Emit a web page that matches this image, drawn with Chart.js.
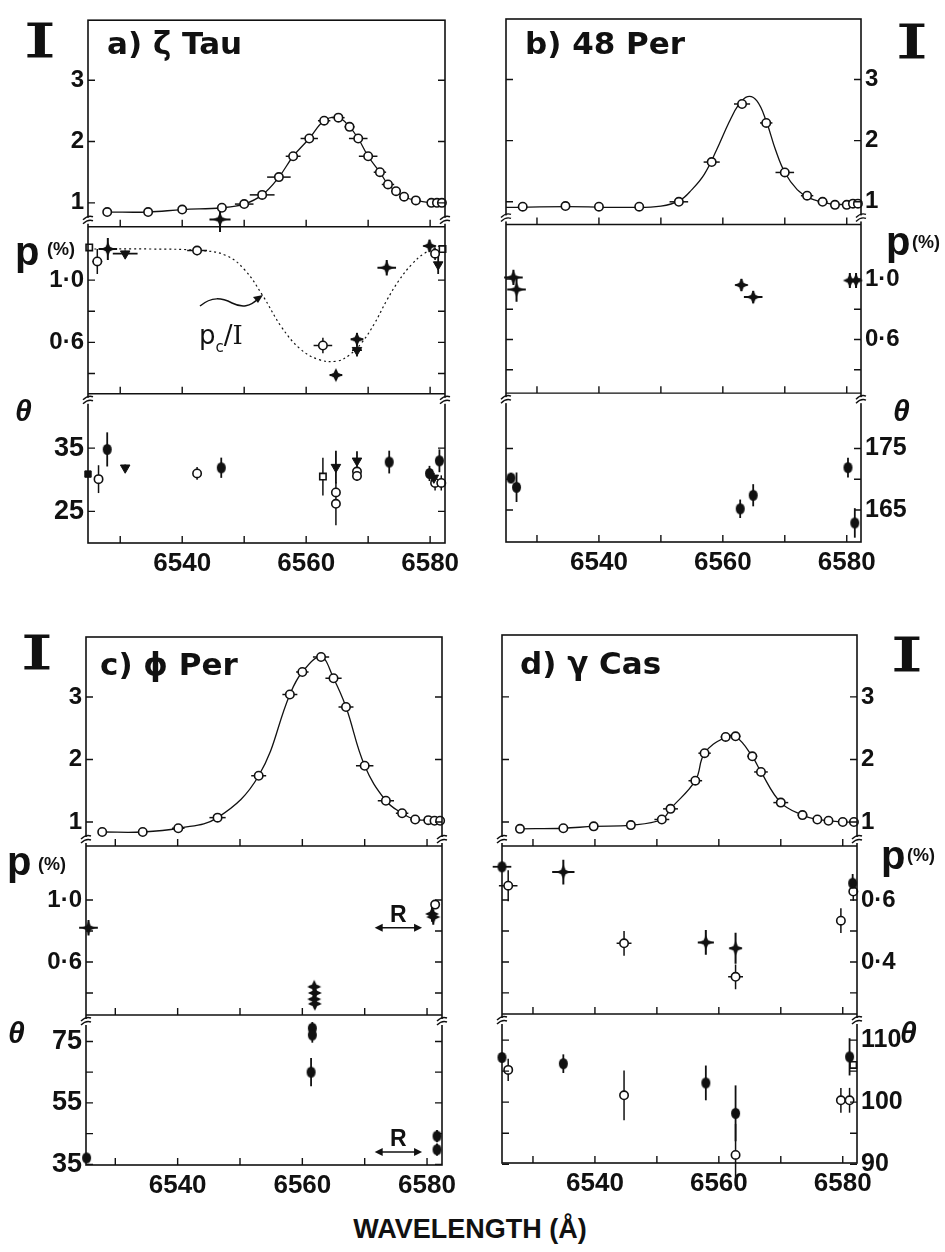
<!DOCTYPE html>
<html>
<head>
<meta charset="utf-8">
<script src="https://cdn.jsdelivr.net/npm/chart.js@4.4.0/dist/chart.umd.min.js"></script>
<style>
  body { margin: 0; background: #fff; }
  #page { position: relative; width: 945px; height: 1252px; overflow: hidden; background: #fff;
          font-family: "Liberation Sans", Arial, sans-serif; font-weight: bold; color: #111; }
  canvas { position: absolute; }
  .lab { position: absolute; white-space: nowrap; line-height: 1; }
  .big-i { font-family: "DejaVu Serif", serif; font-weight: normal; font-size: 46px; transform: scaleX(1.75); transform-origin: left top;
           -webkit-text-stroke: 1.2px #111; }
  .p { font-size: 40px; }
  .pct { font-size: 18px; }
  .th { font-size: 30px; font-style: italic; }
  .star { font-family: "DejaVu Sans", sans-serif; font-size: 31px; }
</style>
</head>
<body>
<div id="page">
  <canvas id="chartA" width="470" height="600" style="left:0;top:0"></canvas>
  <canvas id="chartB" width="475" height="600" style="left:470px;top:0"></canvas>
  <canvas id="chartC" width="470" height="610" style="left:0;top:600px"></canvas>
  <canvas id="chartD" width="475" height="610" style="left:470px;top:600px"></canvas>

  <div class="lab star" style="left:107px;top:28px">a) ζ Tau</div>
  <div class="lab star" style="left:525px;top:28px">b) 48 Per</div>
  <div class="lab star" style="left:100px;top:649px">c) ϕ Per</div>
  <div class="lab star" style="left:520px;top:648px">d) γ Cas</div>

  <div class="lab big-i" style="left:24px;top:18px">I</div>
  <div class="lab big-i" style="left:896px;top:19px">I</div>
  <div class="lab big-i" style="left:21px;top:630px">I</div>
  <div class="lab big-i" style="left:891px;top:632px">I</div>

  <div class="lab p" style="left:15px;top:231px">p</div><div class="lab pct" style="left:47px;top:240px">(%)</div>
  <div class="lab p" style="left:886px;top:221px">p</div><div class="lab pct" style="left:912px;top:233px">(%)</div>
  <div class="lab p" style="left:7px;top:841px">p</div><div class="lab pct" style="left:38px;top:855px">(%)</div>
  <div class="lab p" style="left:881px;top:835px">p</div><div class="lab pct" style="left:907px;top:846px">(%)</div>

  <div class="lab th" style="left:15px;top:396px">θ</div>
  <div class="lab th" style="left:893px;top:396px">θ</div>
  <div class="lab th" style="left:8px;top:1018px">θ</div>
  <div class="lab th" style="left:900px;top:1018px">θ</div>

  <div class="lab" style="left:199px;top:322px;font-weight:normal;font-family:'DejaVu Sans';font-size:26px">p<span style="font-size:15px;position:relative;top:8px">c</span>/<span style="font-family:'DejaVu Serif'">I</span></div>
  <svg style="position:absolute;left:0;top:0" width="470" height="600">
    <path d="M200 306 C 212 296, 222 298, 232 303 S 250 307, 259 298" fill="none" stroke="#111" stroke-width="1.5"/>
    <path d="M253 297 L 263 295 L 258 303 Z" fill="#111"/>
  </svg>

  <div class="lab" style="left:0;width:940px;text-align:center;top:1216px;font-size:27px">WAVELENGTH (Å)</div>
</div>

<script>
var INK = '#111';
var LABEL_FONT = 'Liberation Sans';

// shared wavelength ticks
var xTickVals = [6530, 6540, 6550, 6560, 6570, 6580];
var xTickLabels = [6540, 6560, 6580];
var iTickVals = [1, 2, 3];

// ---------- a) zeta Tau ----------
var aIWave = [6527.9, 6534.5, 6540.0, 6546.4, 6550.0, 6552.9, 6555.6, 6557.9, 6560.5, 6562.9, 6565.2, 6567.0, 6568.4, 6570.0, 6571.9, 6573.2, 6574.5, 6575.8, 6577.7, 6580.2, 6581.1, 6581.9];
var aIVal  = [0.85, 0.85, 0.89, 0.92, 0.98, 1.13, 1.42, 1.76, 2.05, 2.34, 2.39, 2.24, 2.05, 1.76, 1.50, 1.30, 1.19, 1.10, 1.04, 1.00, 1.00, 1.00];
var aIErr  = [0, 0, 0, 0.8, 1.5, 2.0, 1.9, 1.2, 1.4, 1.0, 1.0, 0.8, 1.5, 1.5, 1.0, 1.0, 0.8, 0.8, 0.8, 0, 0, 0];
var aPcWave = [6525.0, 6535.0, 6543.0, 6547.0, 6550.0, 6553.0, 6556.0, 6559.0, 6562.0, 6565.0, 6567.0, 6569.0, 6571.0, 6573.0, 6575.0, 6577.0, 6579.0, 6582.0];
var aPcVal  = [1.20, 1.20, 1.19, 1.16, 1.07, 0.90, 0.70, 0.56, 0.49, 0.48, 0.52, 0.60, 0.72, 0.87, 1.00, 1.10, 1.17, 1.23];
var aPStarWave = [6528.0, 6546.1, 6564.8, 6568.2, 6573.0, 6579.9];
var aPStarVal  = [1.20, 1.39, 0.39, 0.62, 1.08, 1.22];
var aPStarXErr = [1.5, 1.7, 1.0, 1.0, 1.5, 1.0];
var aPStarYErr = [0.07, 0.08, 0.03, 0.04, 0.05, 0.04];
var aPTriWave = [6530.8, 6568.2, 6581.3];
var aPTriVal  = [1.17, 0.55, 1.10];
var aPTriXErr = [2.0, 0.8, 0.5];
var aPTriYErr = [0.02, 0.04, 0.06];
var aPOpenWave = [6526.3, 6542.4, 6562.7, 6580.8];
var aPOpenVal  = [1.12, 1.19, 0.58, 1.17];
var aPOpenXErr = [0.8, 1.6, 1.5, 0.5];
var aPOpenYErr = [0.08, 0.03, 0.05, 0.04];
var aPSqWave = [6525.0, 6582.0];
var aPSqVal  = [1.21, 1.20];
var aTDotWave = [6527.9, 6546.3, 6573.4, 6579.9, 6581.5];
var aTDotVal  = [34.8, 31.9, 32.8, 31.0, 33.0];
var aTDotErr  = [2.7, 1.6, 1.8, 1.2, 1.8];
var aTTriWave = [6530.8, 6564.8, 6568.2, 6580.6];
var aTTriVal  = [31.9, 32.0, 33.0, 30.3];
var aTTriErr  = [0.5, 2.6, 1.5, 0.8];
var aTOpenWave = [6526.5, 6542.4, 6564.8, 6564.8, 6568.2, 6568.2, 6580.8, 6581.8];
var aTOpenVal  = [30.1, 31.0, 28.0, 26.2, 31.3, 30.6, 29.5, 29.5];
var aTOpenErr  = [2.2, 1.0, 0, 3.4, 0, 0.8, 1.2, 1.2];
var aTSqWave = [6562.7];
var aTSqVal  = [30.5];
var aTSqErr  = [3.0];
var aTFsqWave = [6524.8];
var aTFsqVal  = [30.9];

// ---------- b) 48 Per ----------
var bIWave = [6527.7, 6534.6, 6540.0, 6546.5, 6552.9, 6558.2, 6563.1, 6567.0, 6570.0, 6573.6, 6576.1, 6578.1, 6580.0, 6581.0, 6581.8];
var bIVal  = [0.92, 0.93, 0.92, 0.92, 1.00, 1.65, 2.60, 2.29, 1.48, 1.10, 1.00, 0.95, 0.95, 0.97, 0.97];
var bIErr  = [0, 0, 0, 0, 1.5, 1.3, 1.3, 1.0, 1.5, 1.0, 0.8, 0, 0, 0, 0];
var bFitWave = [6525.0, 6535.0, 6545.0, 6550.0, 6553.0, 6555.0, 6557.0, 6559.0, 6561.0, 6562.5, 6564.0, 6565.5, 6567.0, 6568.5, 6570.0, 6572.0, 6574.0, 6576.0, 6578.0, 6582.3];
var bFitVal  = [0.91, 0.92, 0.91, 0.93, 1.02, 1.20, 1.45, 1.85, 2.30, 2.58, 2.72, 2.65, 2.32, 1.85, 1.48, 1.20, 1.06, 1.00, 0.96, 0.96];
var bPStarWave = [6526.2, 6526.7, 6563.0, 6564.9, 6580.5, 6581.5];
var bPStarVal  = [1.01, 0.93, 0.96, 0.88, 0.99, 0.99];
var bPStarXErr = [1.5, 1.5, 1.0, 1.5, 0.5, 0.5];
var bPStarYErr = [0.05, 0.08, 0.04, 0.04, 0.05, 0.05];
var bTDotWave = [6525.8, 6526.7, 6562.8, 6564.9, 6580.2, 6581.3];
var bTDotVal  = [170.2, 168.7, 165.2, 167.4, 171.9, 162.9];
var bTDotErr  = [0.8, 2.4, 1.5, 1.8, 1.6, 2.4];

// ---------- c) phi Per ----------
var cIWave = [6527.9, 6534.4, 6540.1, 6546.4, 6553.0, 6558.0, 6560.0, 6563.0, 6565.0, 6567.0, 6570.0, 6573.4, 6576.0, 6578.1, 6580.2, 6581.2, 6582.1];
var cIVal  = [0.84, 0.84, 0.90, 1.07, 1.74, 3.04, 3.40, 3.64, 3.30, 2.84, 1.90, 1.34, 1.14, 1.04, 1.03, 1.02, 1.02];
var cIErr  = [0, 0, 1.0, 1.3, 1.2, 1.2, 1.0, 1.3, 1.3, 1.2, 1.4, 1.3, 1.0, 0.8, 0.8, 0, 0];
var cPStarWave = [6525.7, 6561.9, 6562.0, 6561.9, 6562.0, 6580.8, 6581.0];
var cPStarVal  = [0.82, 0.44, 0.40, 0.36, 0.33, 0.91, 0.89];
var cPStarXErr = [1.5, 0.8, 0.8, 0.8, 0.8, 0.4, 0.4];
var cPStarYErr = [0.05, 0.02, 0.02, 0.02, 0.03, 0.05, 0.05];
var cPOpenWave = [6581.3];
var cPOpenVal  = [0.97];
var cTDotWave = [6525.4, 6561.6, 6561.6, 6561.4, 6581.6, 6581.6];
var cTDotVal  = [37.1, 79.3, 77.1, 65.0, 44.2, 39.8];
var cTDotErr  = [1.0, 2.0, 2.5, 4.6, 2.0, 2.0];
var cRange = [6571.6, 6579.2];
var cRp = 0.82;
var cRtheta = 39.0;

// ---------- d) gamma Cas ----------
var dIWave = [6527.9, 6534.9, 6539.8, 6545.8, 6550.8, 6552.2, 6556.2, 6557.7, 6561.1, 6562.7, 6565.4, 6566.8, 6570.0, 6573.5, 6575.9, 6577.7, 6580.0, 6581.8];
var dIVal  = [0.89, 0.90, 0.93, 0.95, 1.04, 1.21, 1.66, 2.10, 2.36, 2.37, 2.05, 1.80, 1.31, 1.11, 1.04, 1.02, 1.00, 1.00];
var dIErr  = [0, 0, 0, 0, 1.2, 1.2, 1.1, 1.0, 0.8, 0.8, 0.8, 1.1, 1.2, 0.8, 0.6, 0, 0, 0];
var dPStarWave = [6534.9, 6557.9, 6562.7];
var dPStarVal  = [0.69, 0.463, 0.444];
var dPStarXErr = [1.8, 1.3, 1.0];
var dPStarYErr = [0.04, 0.04, 0.05];
var dPDotWave = [6525.0, 6581.6];
var dPDotVal  = [0.707, 0.654];
var dPDotXErr = [1.5, 0.5];
var dPDotYErr = [0, 0.03];
var dPOpenWave = [6526.0, 6544.7, 6562.7, 6579.7, 6581.7];
var dPOpenVal  = [0.646, 0.46, 0.352, 0.533, 0.627];
var dPOpenXErr = [1.5, 1.2, 1.2, 0.6, 0.3];
var dPOpenYErr = [0.05, 0.04, 0.04, 0.04, 0.03];
var dTDotWave = [6525.0, 6534.9, 6557.9, 6562.7, 6581.1];
var dTDotVal  = [107.2, 106.2, 103.1, 98.2, 107.3];
var dTDotErr  = [0, 1.5, 2.8, 4.5, 3.0];
var dTOpenWave = [6526.0, 6544.7, 6562.7, 6579.7, 6581.1];
var dTOpenVal  = [105.2, 101.1, 91.5, 100.3, 100.3];
var dTOpenErr  = [1.8, 4.0, 5.0, 2.0, 2.0];
var dTSqWave = [6581.7];
var dTSqVal  = [106.0];

// ---------- markers ----------
function makeStar(r) {
  var c = document.createElement('canvas');
  c.width = c.height = 2 * r + 2;
  var g = c.getContext('2d'), m = r + 1, k = r * 0.32;
  g.fillStyle = INK;
  g.beginPath();
  g.moveTo(m, m - r); g.lineTo(m + k, m - k); g.lineTo(m + r, m); g.lineTo(m + k, m + k);
  g.lineTo(m, m + r); g.lineTo(m - k, m + k); g.lineTo(m - r, m); g.lineTo(m - k, m - k);
  g.closePath(); g.fill();
  return c;
}
function makeDot(rx, ry) {
  var c = document.createElement('canvas');
  c.width = 2 * rx + 2; c.height = 2 * ry + 2;
  var g = c.getContext('2d');
  g.fillStyle = INK;
  g.beginPath(); g.ellipse(rx + 1, ry + 1, rx, ry, 0, 0, Math.PI * 2); g.fill();
  return c;
}
var STAR = makeStar(7);
var DOT = makeDot(4.5, 5.5);

function pts(w, v) {
  return w.map(function(x, i) { return {x: x, y: v[i]}; });
}

function marks(kind, w, v, axis, xe, ye) {
  var ds = {type: 'scatter', data: pts(w, v), yAxisID: axis, order: 1, clip: false,
            xErr: xe || null, yErr: ye || null, borderColor: INK, pointBorderColor: INK};
  if (kind === 'open') {
    ds.pointStyle = 'circle'; ds.pointRadius = 4.2; ds.pointBackgroundColor = '#fff'; ds.pointBorderWidth = 1.6;
  } else if (kind === 'star') {
    ds.pointStyle = STAR; ds.errWidth = 2;
  } else if (kind === 'dot') {
    ds.pointStyle = DOT; ds.errWidth = 1.8;
  } else if (kind === 'tri') {
    ds.pointStyle = 'triangle'; ds.rotation = 180; ds.pointRadius = 5.5; ds.pointBackgroundColor = INK; ds.errWidth = 1.8;
  } else if (kind === 'sq') {
    ds.pointStyle = 'rect'; ds.pointRadius = 4.5; ds.pointBackgroundColor = '#fff'; ds.pointBorderWidth = 1.6;
  } else if (kind === 'fsq') {
    ds.pointStyle = 'rect'; ds.pointRadius = 4.5; ds.pointBackgroundColor = INK;
  }
  return ds;
}

function profile(w, v, xe) {
  return {type: 'line', data: pts(w, v), yAxisID: 'yI', order: 1, clip: false, xErr: xe, errWidth: 1.5,
          borderColor: INK, borderWidth: 1.3, tension: 0.4, fill: false,
          pointStyle: 'circle', pointRadius: 4.2, pointBackgroundColor: '#fff',
          pointBorderColor: INK, pointBorderWidth: 1.6};
}

function curve(w, v, axis, dash) {
  return {type: 'line', data: pts(w, v), yAxisID: axis, order: 2, clip: false,
          borderColor: INK, borderWidth: dash ? 1.2 : 1.3, borderDash: dash || [],
          tension: 0.4, fill: false, pointRadius: 0};
}

// ---------- axes ----------
function pFmt(v) { return v.toFixed(1).replace('.', '·'); }
function intFmt(v) { return String(v); }

function yAxis(side, weight, min, max, tickVals, labelVals, width, fmt, size) {
  return {
    type: 'linear', position: side, stack: 'panel', stackWeight: weight,
    min: min, max: max,
    afterBuildTicks: function(s) { s.ticks = tickVals.map(function(v) { return {value: v}; }); },
    afterFit: function(s) { s.width = width; },
    grid: {display: false, drawTicks: false},
    border: {display: false},
    ticks: {
      autoSkip: false, padding: 4, color: INK,
      font: {family: LABEL_FONT, size: size || 24, weight: 'bold'},
      callback: function(v) { return labelVals.indexOf(v) >= 0 ? fmt(v) : ''; }
    }
  };
}

function xAxis(min, max) {
  return {
    type: 'linear', position: 'bottom', min: min, max: max,
    afterBuildTicks: function(s) { s.ticks = xTickVals.map(function(v) { return {value: v}; }); },
    afterFit: function(s) { s.height = 40; },
    grid: {display: false, drawTicks: false},
    border: {display: false},
    ticks: {
      autoSkip: false, maxRotation: 0, padding: 5, color: INK,
      font: {family: LABEL_FONT, size: 26, weight: 'bold'},
      callback: function(v) { return xTickLabels.indexOf(v) >= 0 ? String(v) : ''; }
    }
  };
}

// frame, inward ticks, axis breaks, error bars, range arrows
var framePlugin = {
  id: 'frame',
  beforeDatasetsDraw: function(chart) {
    var ctx = chart.ctx;
    ctx.save();
    ctx.strokeStyle = INK;
    chart.data.datasets.forEach(function(ds, i) {
      if (!ds.xErr && !ds.yErr) return;
      var meta = chart.getDatasetMeta(i), xs = meta.xScale, ys = meta.yScale;
      ctx.lineWidth = ds.errWidth || 1.5;
      ds.data.forEach(function(p, j) {
        var px = xs.getPixelForValue(p.x), py = ys.getPixelForValue(p.y);
        var xe = ds.xErr ? ds.xErr[j] : 0, ye = ds.yErr ? ds.yErr[j] : 0;
        ctx.beginPath();
        if (xe) { ctx.moveTo(xs.getPixelForValue(p.x - xe), py); ctx.lineTo(xs.getPixelForValue(p.x + xe), py); }
        if (ye) { ctx.moveTo(px, ys.getPixelForValue(p.y - ye)); ctx.lineTo(px, ys.getPixelForValue(p.y + ye)); }
        ctx.stroke();
      });
    });
    ctx.restore();
  },
  afterDraw: function(chart, args, opts) {
    var ctx = chart.ctx, a = chart.chartArea, x = chart.scales.x;
    var subs = [chart.scales.yI, chart.scales.yP, chart.scales.yT];
    ctx.save();
    ctx.strokeStyle = INK;
    ctx.lineWidth = 1.6;
    ctx.strokeRect(a.left, a.top, a.right - a.left, a.bottom - a.top);
    ctx.lineWidth = 1.4;
    ctx.beginPath();
    subs.forEach(function(s, k) {
      if (k > 0) { ctx.moveTo(a.left, s.top); ctx.lineTo(a.right, s.top); }
      x.ticks.forEach(function(t) {
        var px = x.getPixelForValue(t.value);
        ctx.moveTo(px, s.bottom); ctx.lineTo(px, s.bottom - 7);
      });
      s.ticks.forEach(function(t) {
        var py = s.getPixelForValue(t.value);
        ctx.moveTo(a.left, py); ctx.lineTo(a.left + 7, py);
        ctx.moveTo(a.right - 7, py); ctx.lineTo(a.right, py);
      });
    });
    ctx.stroke();
    // axis breaks
    function brk(cx, cy) {
      ctx.fillStyle = '#fff';
      ctx.fillRect(cx - 2, cy - 3, 4, 6);
      ctx.beginPath();
      ctx.moveTo(cx - 5, cy - 1); ctx.quadraticCurveTo(cx, cy - 6, cx + 5, cy - 4);
      ctx.moveTo(cx - 5, cy + 3); ctx.quadraticCurveTo(cx, cy - 2, cx + 5, cy);
      ctx.stroke();
    }
    brk(a.left, subs[1].top - 6); brk(a.right, subs[1].top - 6);
    brk(a.left, subs[2].top + 7); brk(a.right, subs[2].top + 7);
    // resolution arrows
    (opts.arrows || []).forEach(function(ar) {
      var s = chart.scales[ar.axis];
      var x0 = x.getPixelForValue(ar.from), x1 = x.getPixelForValue(ar.to), y = s.getPixelForValue(ar.at);
      ctx.fillStyle = INK;
      ctx.lineWidth = 1.5;
      ctx.beginPath(); ctx.moveTo(x0 + 3, y); ctx.lineTo(x1 - 3, y); ctx.stroke();
      ctx.beginPath(); ctx.moveTo(x0, y); ctx.lineTo(x0 + 8, y - 4); ctx.lineTo(x0 + 8, y + 4); ctx.closePath(); ctx.fill();
      ctx.beginPath(); ctx.moveTo(x1, y); ctx.lineTo(x1 - 8, y - 4); ctx.lineTo(x1 - 8, y + 4); ctx.closePath(); ctx.fill();
      ctx.font = 'bold 23px "' + LABEL_FONT + '"';
      ctx.textAlign = 'center'; ctx.textBaseline = 'alphabetic';
      ctx.fillText(ar.label, (x0 + x1) / 2, y - 6);
    });
    ctx.restore();
  }
};

function makePanel(id, side, padding, axisW, xr, iR, pR, tR, weights, pTicks, pLabels, tTicks, tLabels, datasets, arrows) {
  var scales = {x: xAxis(xr[0], xr[1])};
  var yI = yAxis(side, weights[0], iR[0], iR[1], iTickVals, iTickVals, axisW, intFmt);
  var yP = yAxis(side, weights[1], pR[0], pR[1], pTicks, pLabels, axisW, pFmt);
  var yT = yAxis(side, weights[2], tR[0], tR[1], tTicks, tLabels, axisW, intFmt, side === 'left' ? 27 : 25);
  if (side === 'left') { scales.yT = yT; scales.yP = yP; scales.yI = yI; }
  else { scales.yI = yI; scales.yP = yP; scales.yT = yT; }
  return new Chart(document.getElementById(id), {
    type: 'scatter',
    data: {datasets: datasets},
    options: {
      responsive: false, animation: false, devicePixelRatio: 1,
      layout: {padding: padding},
      scales: scales,
      plugins: {legend: {display: false}, tooltip: {enabled: false}, frame: {arrows: arrows || []}}
    },
    plugins: [framePlugin]
  });
}

var pTicksHigh = [0.4, 0.6, 0.8, 1.0];
var pLabelsHigh = [0.6, 1.0];

makePanel('chartA', 'left', {left: 0, right: 25, top: 14, bottom: 17}, 88,
  [6524.8, 6582.4], [0.61, 3.98], [0.27, 1.343], [20.0, 43.6], [209, 169, 151],
  pTicksHigh, pLabelsHigh, [25, 35], [25, 35], [
    profile(aIWave, aIVal, aIErr),
    marks('star', aPStarWave, aPStarVal, 'yP', aPStarXErr, aPStarYErr),
    marks('tri', aPTriWave, aPTriVal, 'yP', aPTriXErr, aPTriYErr),
    marks('open', aPOpenWave, aPOpenVal, 'yP', aPOpenXErr, aPOpenYErr),
    marks('sq', aPSqWave, aPSqVal, 'yP'),
    curve(aPcWave, aPcVal, 'yP', [2, 3]),
    marks('dot', aTDotWave, aTDotVal, 'yT', null, aTDotErr),
    marks('tri', aTTriWave, aTTriVal, 'yT', null, aTTriErr),
    marks('open', aTOpenWave, aTOpenVal, 'yT', null, aTOpenErr),
    marks('sq', aTSqWave, aTSqVal, 'yT', null, aTSqErr),
    marks('fsq', aTFsqWave, aTFsqVal, 'yT')
  ]);

makePanel('chartB', 'right', {left: 36, right: 0, top: 15, bottom: 18}, 84,
  [6525.0, 6582.3], [0.63, 3.99], [0.246, 1.36], [159.8, 184.0], [207, 170, 150],
  pTicksHigh, pLabelsHigh, [165, 170, 175], [165, 175], [
    marks('open', bIWave, bIVal, 'yI', bIErr),
    curve(bFitWave, bFitVal, 'yI'),
    marks('star', bPStarWave, bPStarVal, 'yP', bPStarXErr, bPStarYErr),
    marks('dot', bTDotWave, bTDotVal, 'yT', null, bTDotErr)
  ]);

makePanel('chartC', 'left', {left: 0, right: 28, top: 37, bottom: 5}, 86,
  [6525.3, 6582.4], [0.616, 3.96], [0.258, 1.348], [34.8, 83.6], [209, 169, 150],
  pTicksHigh, pLabelsHigh, [35, 45, 55, 65, 75], [35, 55, 75], [
    profile(cIWave, cIVal, cIErr),
    marks('star', cPStarWave, cPStarVal, 'yP', cPStarXErr, cPStarYErr),
    marks('open', cPOpenWave, cPOpenVal, 'yP'),
    marks('dot', cTDotWave, cTDotVal, 'yT', null, cTDotErr)
  ], [
    {axis: 'yP', from: cRange[0], to: cRange[1], at: cRp, label: 'R'},
    {axis: 'yT', from: cRange[0], to: cRange[1], at: cRtheta, label: 'R'}
  ]);

makePanel('chartD', 'right', {left: 32, right: 0, top: 35, bottom: 7}, 88,
  [6525.0, 6582.3], [0.616, 3.99], [0.232, 0.774], [90.2, 114.2], [211, 168, 149],
  [0.3, 0.4, 0.5, 0.6], [0.4, 0.6], [90, 95, 100, 105, 110], [90, 100, 110], [
    profile(dIWave, dIVal, dIErr),
    marks('star', dPStarWave, dPStarVal, 'yP', dPStarXErr, dPStarYErr),
    marks('dot', dPDotWave, dPDotVal, 'yP', dPDotXErr, dPDotYErr),
    marks('open', dPOpenWave, dPOpenVal, 'yP', dPOpenXErr, dPOpenYErr),
    marks('dot', dTDotWave, dTDotVal, 'yT', null, dTDotErr),
    marks('open', dTOpenWave, dTOpenVal, 'yT', null, dTOpenErr),
    marks('sq', dTSqWave, dTSqVal, 'yT')
  ]);
</script>
</body>
</html>
